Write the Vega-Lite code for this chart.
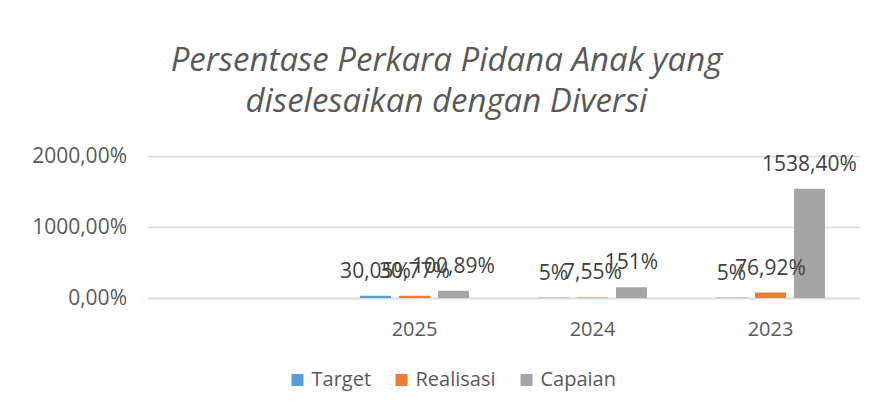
{
  "$schema": "https://vega.github.io/schema/vega-lite/v6.json",
  "autosize": "none",
  "width": 712,
  "height": 142,
  "padding": {"left": 147.5, "top": 156, "right": 16.5, "bottom": 116},
  "background": "white",
  "title": {
    "text": ["Persentase Perkara Pidana Anak yang", "diselesaikan dengan Diversi"],
    "font": "Open Sans",
    "fontSize": 33,
    "fontStyle": "italic",
    "fontWeight": "normal",
    "color": "#595959",
    "anchor": "middle",
    "frame": "group",
    "dx": -57,
    "lineHeight": 41,
    "offset": 26
  },
  "data": {
    "values": [
      {"year": "2025", "series": "Target", "value": 30.05, "label": "30,05%"},
      {"year": "2025", "series": "Realisasi", "value": 30.77, "label": "30,77%"},
      {"year": "2025", "series": "Capaian", "value": 100.89, "label": "100,89%"},
      {"year": "2024", "series": "Target", "value": 5, "label": "5%"},
      {"year": "2024", "series": "Realisasi", "value": 7.55, "label": "7,55%"},
      {"year": "2024", "series": "Capaian", "value": 151, "label": "151%"},
      {"year": "2023", "series": "Target", "value": 5, "label": "5%"},
      {"year": "2023", "series": "Realisasi", "value": 76.92, "label": "76,92%"},
      {"year": "2023", "series": "Capaian", "value": 1538.4, "label": "1538,40%"}
    ]
  },
  "encoding": {
    "x": {
      "field": "year",
      "type": "nominal",
      "sort": null,
      "scale": {"domain": [" ", "2025", "2024", "2023"], "paddingInner": 0.388, "paddingOuter": 0.194},
      "axis": {
        "title": null,
        "labelAngle": 0,
        "ticks": false,
        "domainColor": "#D9D9D9",
        "domainWidth": 1.5,
        "labelFont": "Open Sans",
        "labelFontSize": 20,
        "labelColor": "#595959",
        "labelPadding": 21
      }
    },
    "xOffset": {
      "field": "series",
      "type": "nominal",
      "sort": ["Target", "Realisasi", "Capaian"],
      "scale": {"paddingInner": 0.205, "paddingOuter": 0}
    },
    "y": {
      "field": "value",
      "type": "quantitative",
      "scale": {"domain": [0, 2000]},
      "axis": {
        "title": null,
        "values": [0, 1000, 2000],
        "labelExpr": "replace(format(datum.value, '.2f'), '.', ',') + '%'",
        "domain": false,
        "ticks": false,
        "gridColor": "#D9D9D9",
        "gridWidth": 1.5,
        "labelFont": "Open Sans",
        "labelFontSize": 21,
        "labelColor": "#595959",
        "labelPadding": 21
      }
    }
  },
  "layer": [
    {
      "mark": {"type": "bar"},
      "encoding": {
        "color": {
          "field": "series",
          "type": "nominal",
          "sort": ["Target", "Realisasi", "Capaian"],
          "scale": {"domain": ["Target", "Realisasi", "Capaian"], "range": ["#5B9BD5", "#ED7D31", "#A5A5A5"]},
          "legend": {
            "title": null,
            "orient": "none",
            "direction": "horizontal",
            "legendX": 140,
            "legendY": 214,
            "symbolType": "square",
            "symbolSize": 144,
            "symbolStrokeWidth": 0,
            "labelFont": "Open Sans",
            "labelFontSize": 20,
            "labelColor": "#595959",
            "labelOffset": 4,
            "columnPadding": 20
          }
        }
      }
    },
    {
      "mark": {"type": "text", "baseline": "alphabetic", "dy": -18, "font": "Open Sans", "fontSize": 21, "color": "#404040"},
      "encoding": {
        "text": {"field": "label"}
      }
    }
  ],
  "config": {
    "view": {"stroke": null}
  }
}
